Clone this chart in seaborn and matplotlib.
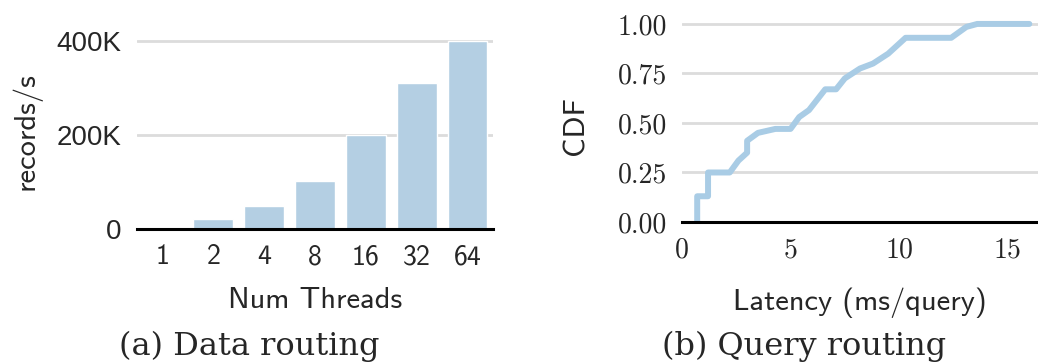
import matplotlib
matplotlib.use("Agg")
import matplotlib.pyplot as plt
import seaborn as sns
import pandas as pd
from matplotlib.ticker import FuncFormatter

# Data
threads = ["1", "2", "4", "8", "16", "32", "64"]
records_per_s = [2000, 22000, 49000, 102000, 200000, 310000, 400000]

latency_ms = [0.7, 0.7, 1.2, 1.2, 2.2, 2.6, 3.0, 3.0, 3.5, 4.3, 5.0, 5.4, 5.85,
              6.6, 7.1, 7.5, 8.2, 8.8, 9.5, 10.3, 12.4, 13.1, 13.6, 16.0]
cdf = [0.0, 0.13, 0.13, 0.25, 0.25, 0.31, 0.35, 0.41, 0.45, 0.47, 0.47, 0.53, 0.565,
       0.67, 0.67, 0.725, 0.775, 0.80, 0.85, 0.93, 0.93, 0.985, 1.0, 1.0]

bar_color = "#b4cfe3"
line_color = "#a9cce5"
grid_color = "#dcdcdc"

sns.set_style("white")

W, H = 1038, 363
fig = plt.figure(figsize=(W / 100, H / 100), dpi=100)


def px_axes(left, top, right, bottom):
    return fig.add_axes([left / W, 1 - bottom / H, (right - left) / W, (bottom - top) / H])


# ===============================
# (a) Data routing
# ===============================
ax1 = px_axes(137, 36, 493, 229)
bars = pd.DataFrame({"threads": threads, "records": records_per_s})
sns.barplot(data=bars, x="threads", y="records", color=bar_color, saturation=1,
            width=0.78, ax=ax1, zorder=2)
ax1.set_xlim(-0.5, 6.5)
ax1.set_ylim(0, 410000)
ax1.set_yticks([0, 200000, 400000])
ax1.yaxis.set_major_formatter(FuncFormatter(lambda v, p: "0" if v == 0 else f"{int(v / 1000)}K"))
ax1.grid(axis="y", color=grid_color, linewidth=2, zorder=0)
ax1.set_axisbelow(True)
for s in ["left", "right", "top"]:
    ax1.spines[s].set_visible(False)
ax1.spines["bottom"].set_linewidth(2.2)
ax1.spines["bottom"].set_color("black")
ax1.tick_params(length=0, pad=11)
for t in ax1.get_yticklabels():
    t.set_fontfamily("Liberation Sans")
    t.set_fontsize(20)
for t in ax1.get_xticklabels():
    t.set_fontfamily("cmss10")
    t.set_fontsize(20)
ax1.set_xlabel("Num Threads", fontfamily="cmss10", fontsize=22)
ax1.set_ylabel("records/s", fontfamily="cmss10", fontsize=22)
ax1.xaxis.set_label_coords(0.5, -0.30)
ax1.yaxis.set_label_coords(-0.267, 0.51)

# ===============================
# (b) Query routing
# ===============================
ax2 = px_axes(682, 18, 1038, 222)
lat = pd.DataFrame({"latency": latency_ms, "cdf": cdf})
sns.lineplot(data=lat, x="latency", y="cdf", sort=False, estimator=None,
             color=line_color, linewidth=4.3, ax=ax2, zorder=3)
ax2.set_xlim(0, 16.4)
ax2.set_ylim(0, 1.03)
ax2.set_yticks([0, 0.25, 0.5, 0.75, 1.0])
ax2.set_xticks([0, 5, 10, 15])
ax2.yaxis.set_major_formatter(FuncFormatter(lambda v, p: f"{v:.2f}"))
ax2.grid(axis="y", color=grid_color, linewidth=2, zorder=0)
ax2.set_axisbelow(True)
for s in ["left", "right", "top"]:
    ax2.spines[s].set_visible(False)
ax2.spines["bottom"].set_linewidth(2.2)
ax2.spines["bottom"].set_color("black")
ax2.spines["bottom"].set_zorder(4)
ax2.tick_params(length=0, pad=11)
for t in ax2.get_yticklabels() + ax2.get_xticklabels():
    t.set_fontfamily("cmr10")
    t.set_fontsize(20)
ax2.set_xlabel("Latency (ms/query)", fontfamily="cmss10", fontsize=22)
ax2.set_ylabel("CDF", fontfamily="cmss10", fontsize=22)
ax2.xaxis.set_label_coords(0.5, -0.32)
ax2.yaxis.set_label_coords(-0.26, 0.475)

# Captions
fig.text(249 / W, 1 - 355 / H, "(a) Data routing", ha="center", va="baseline",
         fontfamily="DejaVu Serif", fontsize=23)
fig.text(804 / W, 1 - 355 / H, "(b) Query routing", ha="center", va="baseline",
         fontfamily="DejaVu Serif", fontsize=23)

fig.savefig("out.png", dpi=100)
